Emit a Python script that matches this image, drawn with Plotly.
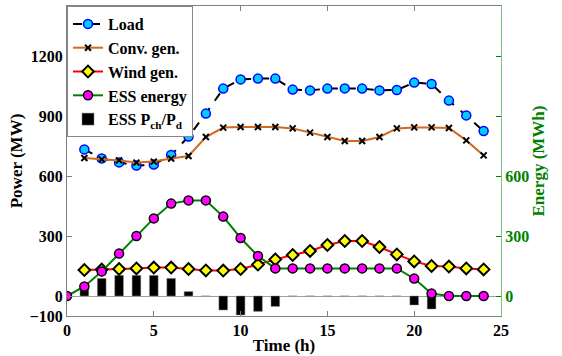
import plotly.graph_objects as go

hours = list(range(0, 25))
hours_1 = list(range(1, 25))

load = [733, 688, 668, 652, 657, 705, 797, 912, 1037, 1083, 1087, 1087,
        1032, 1028, 1037, 1038, 1037, 1028, 1030, 1067, 1060, 977, 903, 825]
conv_gen = [690, 683, 678, 667, 672, 687, 700, 795, 842, 845, 845, 845,
            838, 817, 795, 775, 775, 795, 838, 843, 843, 840, 778, 703]
wind_gen = [130, 132, 135, 138, 142, 142, 135, 128, 127, 135, 157, 183,
            205, 225, 255, 275, 275, 245, 208, 173, 150, 147, 138, 133]
ess_energy = [0, 48, 123, 212, 300, 388, 462, 478, 478, 397, 290, 200, 138,
              138, 138, 138, 138, 138, 138, 138, 87, 12, 0, 0, 0]
ess_power = [53, 88, 103, 103, 103, 88, 22, 0, -70, -95, -77, -52,
             0, 0, 0, 0, 0, 0, 0, -45, -65, 0, 0, 0]

FONT = "Liberation Serif"
GREEN = "#008000"

fig = go.Figure()

fig.add_trace(go.Bar(
    x=hours_1, y=ess_power, name="ESS P<sub>ch</sub>/P<sub>d</sub>",
    width=0.5, marker=dict(color="black", line=dict(color="#888888", width=0.5)),
    legendrank=5, yaxis="y"))

fig.add_trace(go.Scatter(
    x=hours_1, y=load, name="Load", mode="lines+markers",
    line=dict(color="black", width=2, dash="dash"),
    marker=dict(symbol="circle", size=9, color="#00ccff",
                line=dict(color="#0000ff", width=1.5)),
    legendrank=1, yaxis="y"))

fig.add_trace(go.Scatter(
    x=hours_1, y=conv_gen, name="Conv. gen.", mode="lines+markers",
    line=dict(color="#d2691e", width=2),
    marker=dict(symbol="x-thin", size=6, color="black",
                line=dict(color="black", width=2)),
    legendrank=2, yaxis="y"))

fig.add_trace(go.Scatter(
    x=hours_1, y=wind_gen, name="Wind gen.", mode="lines+markers",
    line=dict(color="#ff0000", width=2),
    marker=dict(symbol="diamond", size=9, color="#ffff00",
                line=dict(color="black", width=2)),
    legendrank=3, yaxis="y"))

fig.add_trace(go.Scatter(
    x=hours, y=ess_energy, name="ESS energy", mode="lines+markers",
    line=dict(color=GREEN, width=2),
    marker=dict(symbol="circle", size=9, color="#ff00ff",
                line=dict(color="black", width=1.5)),
    legendrank=4, yaxis="y2"))

fig.update_layout(
    width=562, height=356,
    margin=dict(l=67, r=61, t=6, b=40, autoexpand=False),
    plot_bgcolor="white", paper_bgcolor="white",
    font=dict(family=FONT, size=15, color="black", weight="bold"),
    showlegend=True,
    legend=dict(x=0, y=1, xanchor="left", yanchor="top",
                bgcolor="white", bordercolor="#888888", borderwidth=1,
                font=dict(family=FONT, size=16, color="black", weight="bold"),
                tracegroupgap=0, itemwidth=30,
                traceorder="normal"),
    xaxis=dict(range=[0, 25], tickvals=[0, 5, 10, 15, 20, 25],
               ticks="inside", ticklen=5, tickcolor="#808080",
               showline=True, linecolor="#808080", linewidth=1,
               mirror="ticks", showgrid=False, zeroline=False,
               automargin=False,
               tickfont=dict(family=FONT, size=16, weight="bold"),
               title=dict(text="Time (h)", standoff=0,
                          font=dict(family=FONT, size=17, weight="bold"))),
    yaxis=dict(range=[-100, 1450], tickvals=[-100, 0, 300, 600, 900, 1200],
               ticks="inside", ticklen=5, tickcolor="#808080",
               showline=True, linecolor="#808080", linewidth=1,
               showgrid=False, zeroline=True, zerolinecolor="#a0a0a0",
               zerolinewidth=1, automargin=False,
               tickfont=dict(family=FONT, size=16, weight="bold"),
               title=dict(text="Power (MW)", standoff=2,
                          font=dict(family=FONT, size=17, weight="bold"))),
    yaxis2=dict(range=[-100, 1450], overlaying="y", side="right",
                tickvals=[0, 300, 600, 900, 1200],
                ticktext=["0", "300", "600", "", ""],
                ticks="inside", ticklen=5, tickcolor=GREEN,
                showline=True, linecolor="#80c080", linewidth=1,
                showgrid=False, zeroline=False, automargin=False,
                tickfont=dict(family=FONT, size=16, color=GREEN, weight="bold"),
                title=dict(text="Energy (MWh)", standoff=2,
                           font=dict(family=FONT, size=17, color=GREEN,
                                     weight="bold"))),
)

fig.write_html("out.html", config={"displayModeBar": False},
               post_script="document.body.style.margin='0';")
